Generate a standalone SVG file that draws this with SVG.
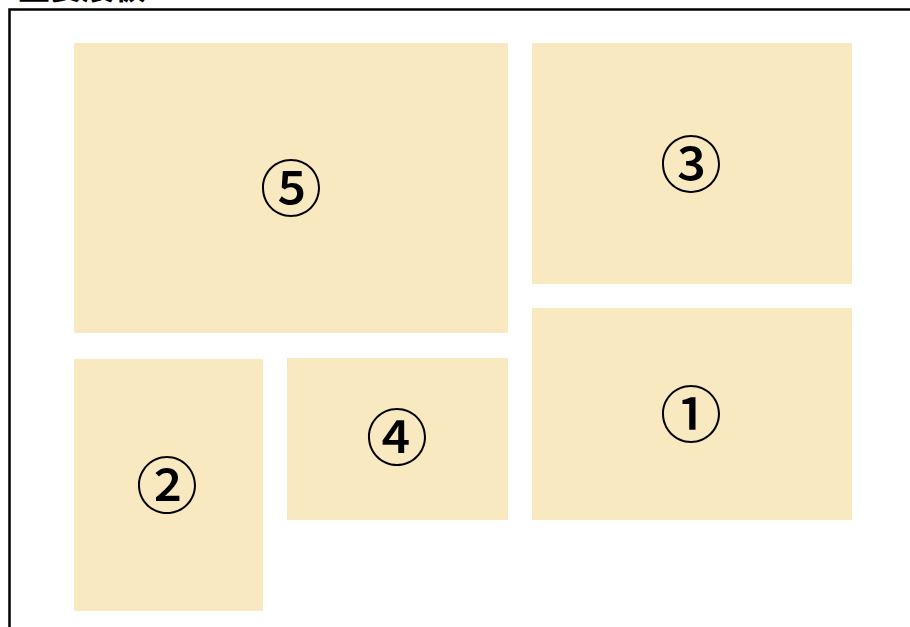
<svg xmlns="http://www.w3.org/2000/svg" width="910" height="627" viewBox="0 0 910 627">
<style>
.panel{fill:#F8E9C0}
.lbl{font-family:"Noto Sans CJK JP","Noto Sans CJK SC","DejaVu Sans",sans-serif;font-size:62px;font-weight:500;fill:#000;text-anchor:middle;dominant-baseline:central}
.title{font-family:"Noto Sans CJK SC","Noto Sans CJK JP",sans-serif;font-size:32px;font-weight:bold;fill:#000}
</style>
<rect width="910" height="627" fill="#fff"/>
<text class="title" x="18" y="-1">主要展板</text>
<rect x="9.5" y="9.5" width="910" height="630" fill="none" stroke="#000" stroke-width="2.5"/>
<g id="panel5"><rect class="panel" x="74" y="43" width="434" height="290"/><text class="lbl" x="291" y="185">⑤</text></g>
<g id="panel3"><rect class="panel" x="532" y="43" width="320" height="241"/><text class="lbl" x="691" y="161">③</text></g>
<g id="panel1"><rect class="panel" x="532" y="308" width="320" height="212"/><text class="lbl" x="691" y="411">①</text></g>
<g id="panel2"><rect class="panel" x="74" y="359" width="189" height="252"/><text class="lbl" x="167" y="482">②</text></g>
<g id="panel4"><rect class="panel" x="287" y="358" width="221" height="162"/><text class="lbl" x="397" y="434">④</text></g>
<g id="connectors"></g>
</svg>
